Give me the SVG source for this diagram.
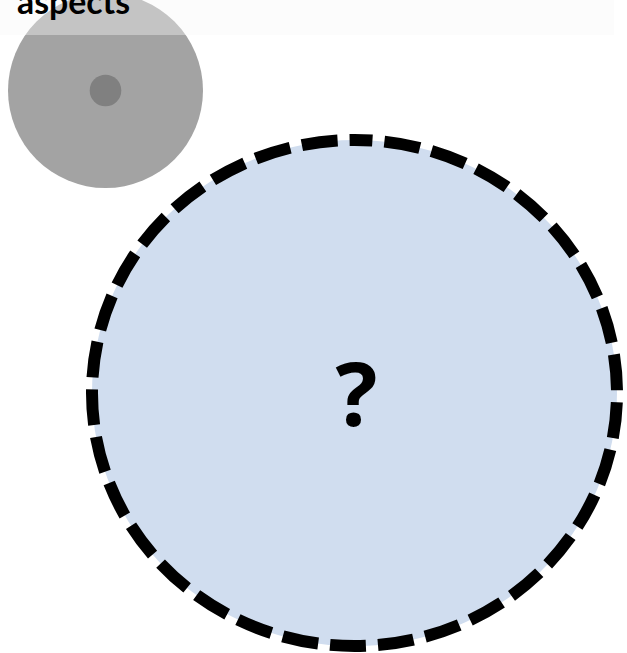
<svg xmlns="http://www.w3.org/2000/svg" width="627" height="653" viewBox="0 0 627 653">
<style>
.label{font-family:Lato,"Open Sans","Liberation Sans",sans-serif;font-weight:bold;fill:#000}
.q{font-family:"Open Sans","Liberation Sans",sans-serif;font-weight:bold;fill:#000}
</style>
<rect x="0" y="0" width="627" height="653" fill="#ffffff"/>
<g id="header">
<rect x="0" y="0" width="614" height="35" fill="#fbfbfb"/>
</g>
<g id="aspect-node">
<circle cx="105.5" cy="90.5" r="97.5" fill="#a3a3a3"/>
<circle cx="105.5" cy="90.5" r="15.8" fill="#808080"/>
</g>
<g id="header-overlay">
<rect x="0" y="0" width="614" height="35" fill="#ffffff" fill-opacity="0.36"/>
<text class="label" x="17" y="13.5" font-size="34" textLength="113" lengthAdjust="spacingAndGlyphs">aspects</text>
</g>
<g id="connectors"></g>
<g id="unknown-node">
<path d="M354.5 140 A262.5 253 0 1 1 354.5 646 A262.5 253 0 1 1 354.5 140 Z" fill="#d0ddef" stroke="#000" stroke-width="12" stroke-dasharray="36 12" stroke-dashoffset="18"/>
<text class="q" x="356.5" y="426" font-size="88" text-anchor="middle">?</text>
</g>
</svg>
